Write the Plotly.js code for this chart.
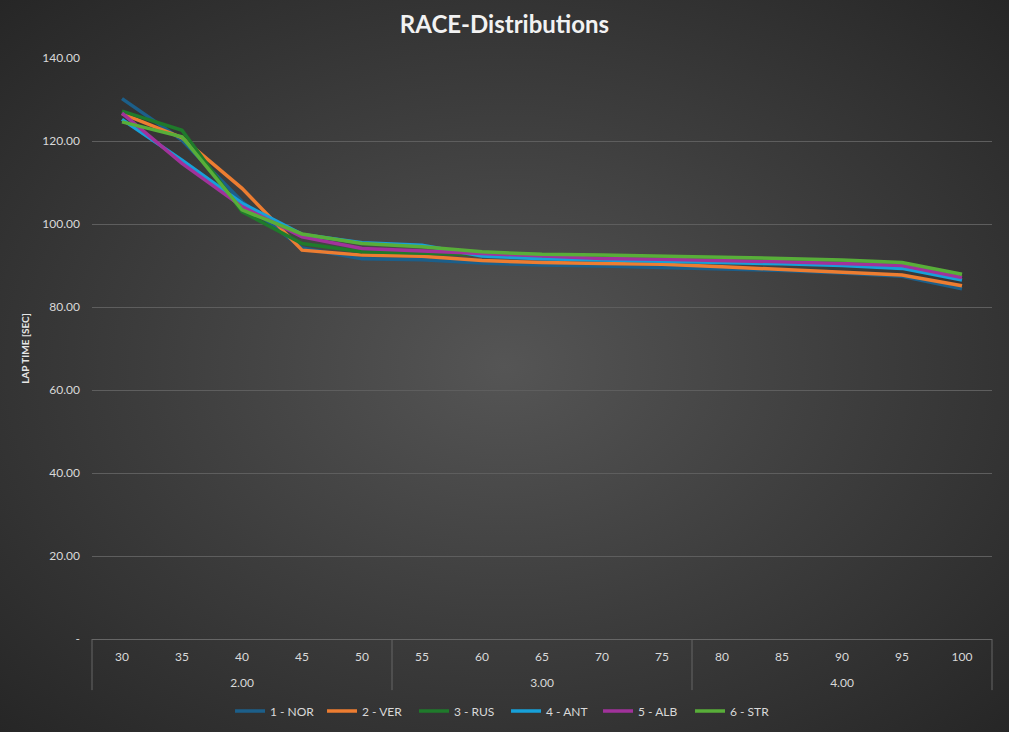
<!DOCTYPE html>
<html>
<head>
<meta charset="utf-8">
<script src="https://cdn.plot.ly/plotly-3.0.1.min.js"></script>
<style>
  html, body { margin:0; padding:0; width:1009px; height:732px; overflow:hidden;
    background: radial-gradient(ellipse at 50% 50%, #555555 0%, #3d3d3d 50%, #262626 100%); }
  #chart { width:1009px; height:732px; }
</style>
</head>
<body>
<div id="chart"></div>
<script>
const groups = ['2.00','2.00','2.00','2.00','2.00','3.00','3.00','3.00','3.00','3.00','4.00','4.00','4.00','4.00','4.00'];
const laps   = ['30','35','40','45','50','55','60','65','70','75','80','85','90','95','100'];

const seriesNames = ['1 - NOR','2 - VER','3 - RUS','4 - ANT','5 - ALB','6 - STR'];
const NOR = [130.2,120.2,105.4,94.2,91.6,91.4,90.6,90.1,89.9,89.6,89.3,88.8,88.2,87.4,84.4];
const VER = [126.6,120.8,108.6,93.7,92.5,92.2,91.2,90.7,90.5,90.3,89.7,89.1,88.5,87.7,85.1];
const RUS = [127.2,122.6,103.0,95.3,93.3,92.9,92.5,92.3,92.2,92.1,91.9,91.5,91.1,90.5,87.8];
const ANT = [125.2,115.4,105.0,97.5,95.5,94.9,92.3,91.6,91.3,90.9,90.7,90.4,90.0,89.3,86.5];
const ALB = [126.7,114.6,104.2,96.9,94.1,93.5,92.8,92.1,91.7,91.5,91.3,90.9,90.5,90.0,87.1];
const STR = [124.6,121.0,103.4,97.6,95.3,94.5,93.3,92.7,92.5,92.3,92.1,91.7,91.3,90.7,87.9];

const yTickVals = [0,20,40,60,80,100,120,140];
const yTickText = ['-','20.00','40.00','60.00','80.00','100.00','120.00','140.00'];

const colors = ['#1c5f8a','#ed7d31','#1f7a2b','#17a0d9','#a1329b','#58ae39'];
const allSeries = [NOR,VER,RUS,ANT,ALB,STR];

// group labels pushed one line lower so the two label rows sit apart as in the reference
const groupLabels = groups.map(g => '<br>' + g);

const traces = allSeries.map((vals,i) => ({
  type:'scatter', mode:'lines',
  x:[groupLabels, laps], y:vals,
  name:seriesNames[i],
  line:{color:colors[i], width:3.5},
  hoverinfo:'skip'
}));

const layout = {
  width:1009, height:732,
  paper_bgcolor:'rgba(0,0,0,0)', plot_bgcolor:'rgba(0,0,0,0)',
  margin:{l:92, r:17, t:58, b:93},
  font:{family:'Lato, "Open Sans", sans-serif', color:'#d9d9d9', size:12},
  title:{text:'<b>RACE-Distributions</b>', x:0.5, xanchor:'center', y:0.966, yanchor:'middle',
         font:{family:'Lato, "Open Sans", sans-serif', size:24, color:'#f2f2f2'}},
  xaxis:{
    type:'multicategory', range:[-0.5,14.5], automargin:false, showgrid:false, showline:true, linecolor:'#666666', linewidth:1,
    ticks:'', ticklabelstandoff:7, tickfont:{size:12, color:'#d9d9d9'},
    showdividers:false,
    zeroline:false
  },
  yaxis:{
    range:[0,140], automargin:false, tickvals:yTickVals, ticktext:yTickText,
    showgrid:true, gridcolor:'#5e5e5e', gridwidth:1, zeroline:false, showline:false,
    ticks:'', tickfont:{size:12, color:'#d9d9d9'}, ticklabelstandoff:11,
    title:{text:'<b>LAP TIME [SEC]</b>', font:{size:10, color:'#e6e6e6'}, standoff:10}
  },
  shapes:[0, 1/3, 2/3, 1].map(px => ({type:'line', xref:'paper', yref:'paper', x0:px, x1:px, y0:0, y1:-0.088,
    line:{color:'#666666', width:1}})),
  legend:{orientation:'h', xref:'container', yref:'container', x:0.5015, xanchor:'center', y:0.0287, yanchor:'middle',
          entrywidth:47, entrywidthmode:'pixels',
          font:{size:12, color:'#d9d9d9'}, bgcolor:'rgba(0,0,0,0)'},
  showlegend:true
};

Plotly.newPlot('chart', traces, layout, {displayModeBar:false, staticPlot:true});
</script>
</body>
</html>
